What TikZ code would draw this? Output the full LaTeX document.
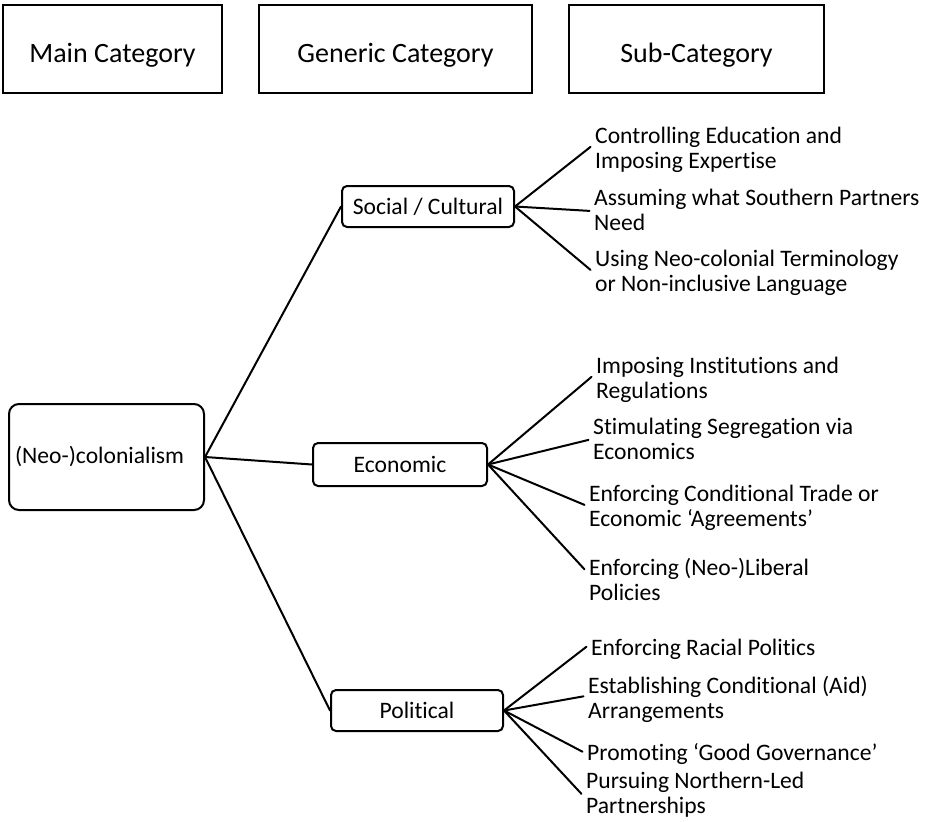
\documentclass[tikz,border=0pt]{standalone}
\usepackage{fontspec}
\setmainfont{Carlito}[Ligatures={TeX,NoCommon}]

% fonts
\newcommand\bodyfont{\fontsize{23.6}{25}\selectfont}
\newcommand\hdrfont{\fontsize{28}{30}\selectfont}
% strut of height 19pt and depth 6pt (exactly one baselineskip)
\newcommand\lnstrut{\rule[-6pt]{0pt}{25pt}}

\tikzset{
  ln/.style={line width=2pt, line cap=round},
  hdrbox/.style={draw, line width=2pt, minimum height=88pt, inner sep=0pt,
    font=\hdrfont, text height=28pt, text depth=0pt},
  mainbox/.style={draw, line width=2pt, rounded corners=10pt,
    minimum width=195pt, minimum height=106pt, inner xsep=6pt, inner ysep=0pt,
    text width=183pt, align=left, font=\bodyfont, text height=18pt, text depth=6pt},
  genbox/.style={draw, line width=2pt, rounded corners=5pt, minimum height=41pt,
    inner sep=0pt, font=\bodyfont, text height=16pt, text depth=0pt},
  subtext/.style={anchor=north west, inner xsep=4.5pt, inner ysep=0pt, align=left,
    font=\bodyfont, execute at begin node=\lnstrut, execute at end node=\lnstrut},
}

\begin{document}
\begin{tikzpicture}[x=1pt, y=-1pt]
\useasboundingbox (0,0) rectangle (925,821);

% column headings
\node[hdrbox, minimum width=219pt] (hmain) at (112.5,49) {Main Category};
\node[hdrbox, minimum width=273pt] (hgen)  at (395.5,49) {Generic Category};
\node[hdrbox, minimum width=255pt] (hsub)  at (696.5,49) {Sub-Category};

% main category
\node[mainbox] (main) at (106.5,457) {(Neo-)colonialism};

% generic categories
\node[genbox, minimum width=172pt] (soc) at (428,206.5) {Social / Cultural};
\node[genbox, minimum width=174pt, minimum height=43pt] (eco) at (400,464.5) {Economic};
\node[genbox, minimum width=172pt] (pol) at (417,710.5) {Political};

% sub-categories: social / cultural
\node[subtext] (s1) at (590.5,127) {Controlling Education and\\Imposing Expertise};
\node[subtext] (s2) at (589.5,189) {Assuming what Southern Partners\\Need};
\node[subtext] (s3) at (590.5,250) {Using Neo-colonial Terminology\\or Non-inclusive Language};

% sub-categories: economic
\node[subtext] (e1) at (591.5,357) {Imposing Institutions and\\Regulations};
\node[subtext] (e2) at (588.5,418) {Stimulating Segregation via\\Economics};
\node[subtext] (e3) at (584.5,485) {Enforcing Conditional Trade or\\Economic ‘Agreements’};
\node[subtext] (e4) at (584.5,558) {Enforcing (Neo-)Liberal\\Policies};

% sub-categories: political
\node[subtext] (p1) at (586.5,636) {Enforcing Racial Politics};
\node[subtext] (p2) at (583.5,676) {Establishing Conditional (Aid)\\Arrangements};
\node[subtext] (p3) at (582.5,741) {Promoting ‘Good Governance’};
\node[subtext] (p4) at (581.5,772) {Pursuing Northern-Led\\Partnerships};

% connectors
\draw[ln] (main.east) -- (soc.west);
\draw[ln] (main.east) -- (eco.west);
\draw[ln] (main.east) -- (pol.west);

\draw[ln] (soc.east) -- ([yshift=4pt]s1.west);
\draw[ln] (soc.east) -- ([yshift=2pt]s2.west);
\draw[ln] (soc.east) -- ([yshift=4pt]s3.west);

\draw[ln] (eco.east) -- ([yshift=4pt]e1.west);
\draw[ln] (eco.east) -- ([yshift=2pt]e2.west);
\draw[ln] (eco.east) -- ([yshift=4pt]e3.west);
\draw[ln] (eco.east) -- ([yshift=13pt]e4.west);

\draw[ln] (pol.east) -- ([yshift=2pt]p1.west);
\draw[ln] (pol.east) -- ([yshift=4pt]p2.west);
\draw[ln] (pol.east) -- ([yshift=2pt]p3.west);
\draw[ln] (pol.east) -- ([yshift=2pt]p4.west);
\end{tikzpicture}
\end{document}
